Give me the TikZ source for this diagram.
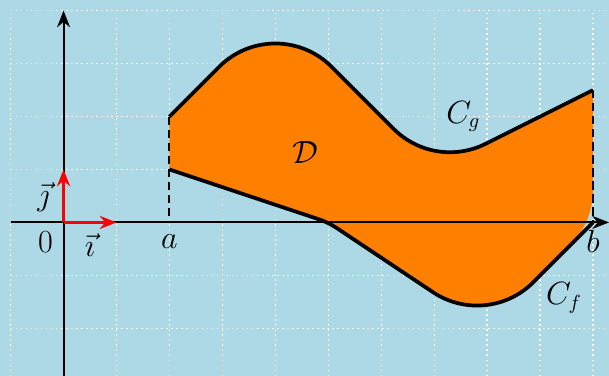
\documentclass[tikz,border=0pt]{standalone}
\usetikzlibrary{arrows.meta}
\definecolor{bgblue}{RGB}{173,216,230}
\definecolor{fillorange}{RGB}{255,128,0}
\begin{document}
\begin{tikzpicture}[
  curve/.style={line width=2pt, line join=round},
  axis/.style={line width=1.05pt, -{Stealth[length=9pt,width=7pt]}},
  vec/.style={red, line width=1.6pt, -{Stealth[length=9pt,width=7pt]}},
  dash line/.style={line width=1.1pt, dash pattern=on 4.5pt off 2.5pt},
  gridline/.style={white, line width=0.8pt, dash pattern=on 0.9pt off 1.8pt},
  lab/.style={font=\fontsize{16}{19}\selectfont, inner sep=0pt}
]
\useasboundingbox (-1.2,-2.9) rectangle (10.3,4.2);
\fill[bgblue] (-1.2,-2.9) rectangle (10.3,4.2);
\draw[gridline] (-1,-3) grid (10.3,4);

% key points
\coordinate (g0) at (2,2);
\coordinate (g1a) at (2.9393,2.9393);
\coordinate (g2a) at (6.2355,1.7645);
\coordinate (g3) at (10,2.5);
\coordinate (f0) at (2,1);
\coordinate (f1a) at (4.8094,0.0635);
\coordinate (f1b) at (5.1672,-0.1114);
\coordinate (f2a) at (6.9768,-1.3179);
\coordinate (f2b) at (8.8695,-1.1305);
\coordinate (f3) at (10,0);
\coordinate (f3b) at (10,0.6213);
\coordinate (A) at (2,0);
\coordinate (O) at (0,0);
\coordinate (xl) at (-1,0);
\coordinate (xr) at (10.3,0);
\coordinate (yb) at (0,-3);
\coordinate (yt) at (0,4);
\coordinate (I) at (1,0);
\coordinate (J) at (0,1);

% domain D
\fill[fillorange] (g0) -- (g1a) arc[start angle=135, end angle=45, radius=1.5]
  -- (g2a) arc[start angle=225, end angle=296.565, radius=1.5]
  -- (g3) -- (f3b) arc[start angle=0, end angle=-45, radius=1.5]
  -- (f2b) arc[start angle=315, end angle=236.31, radius=1.5]
  -- (f1b) arc[start angle=56.31, end angle=71.565, radius=1.5]
  -- (f0) -- cycle;

% dashed verticals
\draw[dash line] (g0) -- (A);
\draw[dash line] (g3) -- (f3);

% axes
\draw[axis] (xl) -- (xr);
\draw[axis] (yb) -- (yt);

% curves
\draw[curve] (g0) -- (g1a) arc[start angle=135, end angle=45, radius=1.5]
  -- (g2a) arc[start angle=225, end angle=296.565, radius=1.5] -- (g3);
\draw[curve] (f0) -- (f1a) arc[start angle=71.565, end angle=56.31, radius=1.5]
  -- (f2a) arc[start angle=236.31, end angle=315, radius=1.5] -- (f3);

% unit vectors
\draw[vec] (O) -- (I);
\draw[vec] (O) -- (J);

% labels
\node[lab] (l0) at (-0.34,-0.37) {$0$};
\node[lab] (li) at (0.5,-0.42) {$\vec{\imath}$};
\node[lab] (lj) at (-0.38,0.47) {$\vec{\jmath}$};
\node[lab] (la) at (2,-0.36) {$a$};
\node[lab] (lb) at (10,-0.36) {$b$};
\node[lab] (lg) at (7.55,2.0) {$C_g$};
\node[lab] (lf) at (9.45,-1.42) {$C_f$};
\node[lab] (lD) at (4.57,1.32) {$\mathcal{D}$};
\end{tikzpicture}
\end{document}
